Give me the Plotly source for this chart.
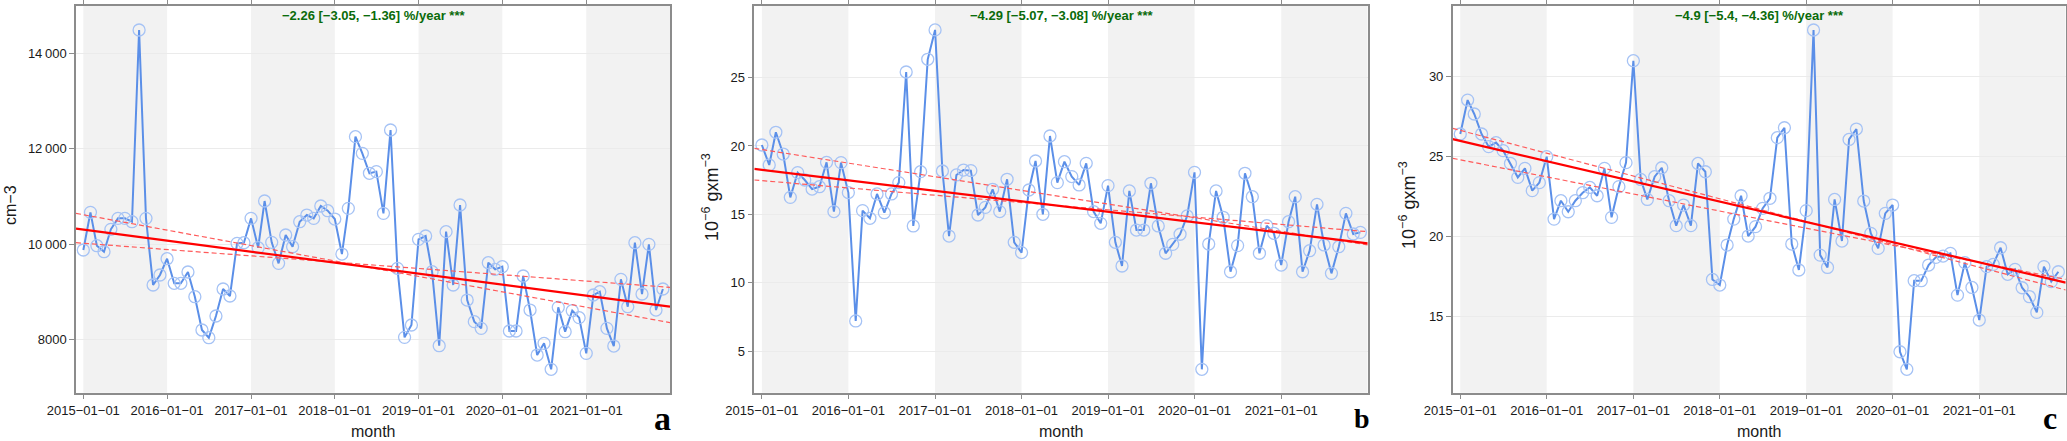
import pandas as pd
import plotly.graph_objects as go

# ---------------- data ----------------
months = pd.date_range("2015-01-01", "2021-12-01", freq="MS").strftime("%Y-%m-%d").tolist()

a_vals = [9874, 10664, 9965, 9839, 10308, 10538, 10538, 10468, 14490, 10538, 9140, 9350,
          9692, 9175, 9175, 9413, 8895, 8196, 8035, 8490, 9056, 8909, 10014, 10028,
          10538, 9923, 10902, 10035, 9594, 10189, 9944, 10468, 10608, 10538, 10797, 10699,
          10524, 9790, 10748, 12252, 11902, 11483, 11518, 10643, 12392, 9490, 8042, 8301,
          10098, 10168, 9420, 7867, 10259, 9140, 10818, 8825, 8371, 8231, 9608, 9469,
          9524, 8175, 8175, 9329, 8615, 7671, 7916, 7371, 8671, 8161, 8601, 8455,
          7706, 8930, 9000, 8231, 7860, 9259, 8685, 10028, 8951, 9993, 8615, 9056]

b_vals = [20.07, 18.61, 21.00, 19.41, 16.24, 18.05, 17.51, 16.85, 17.02, 18.80, 15.20, 18.78,
          16.59, 7.20, 15.27, 14.71, 16.49, 15.12, 16.49, 17.32, 25.41, 14.15, 18.12, 26.34,
          28.49, 18.17, 13.41, 17.88, 18.24, 18.20, 14.95, 15.51, 16.83, 15.20, 17.56, 12.95,
          12.20, 16.78, 18.90, 15.00, 20.73, 17.32, 18.85, 17.76, 17.15, 18.73, 15.20, 14.34,
          17.10, 12.95, 11.22, 16.71, 13.85, 13.85, 17.27, 14.15, 12.15, 12.80, 13.54, 14.88,
          18.07, 3.66, 12.83, 16.71, 14.78, 10.80, 12.71, 18.00, 16.29, 12.15, 14.17, 13.61,
          11.29, 14.46, 16.29, 10.80, 12.34, 15.73, 12.76, 10.68, 12.63, 15.07, 13.56, 13.68]

c_vals = [26.42, 28.54, 27.67, 26.42, 25.63, 25.88, 25.38, 24.58, 23.71, 24.27, 22.88, 23.38,
          25.00, 21.10, 22.25, 21.56, 22.25, 22.75, 23.08, 22.56, 24.27, 21.21, 23.13, 24.63,
          31.00, 23.58, 22.33, 23.75, 24.31, 22.25, 20.69, 21.98, 20.69, 24.58, 24.06, 17.33,
          16.98, 19.48, 21.10, 22.56, 20.04, 20.63, 21.77, 22.40, 26.19, 26.81, 19.54, 17.92,
          21.63, 32.92, 18.85, 18.08, 22.33, 19.73, 26.08, 26.73, 22.23, 20.21, 19.27, 21.46,
          21.98, 12.81, 11.71, 17.25, 17.25, 18.23, 18.71, 18.79, 18.96, 16.35, 18.38, 16.83,
          14.79, 18.13, 18.27, 19.31, 17.65, 17.96, 16.81, 16.25, 15.27, 18.13, 17.19, 17.81]

# Theil-Sen trend (solid) and slope-CI lines (dashed), values at the two x-range ends
trend_x = ["2014-11-30", "2022-01-01"]
a_trend, a_ci1, a_ci2 = [10322, 8685], [10643, 8350], [10028, 9091]
b_trend, b_ci1, b_ci2 = [18.32, 12.88], [19.83, 12.76], [17.51, 13.73]
c_trend, c_ci1, c_ci2 = [26.10, 17.13], [26.77, 16.67], [24.90, 17.33]

trend_text = ["−2.26 [−3.05, −1.36] %/year ***",
              "−4.29 [−5.07, −3.08] %/year ***",
              "−4.9 [−5.4, −4.36] %/year ***"]
y_titles = ["cm−3", "10<sup>−6</sup> gxm<sup>−3</sup>", "10<sup>−6</sup> gxm<sup>−3</sup>"]
panel_labels = ["a", "b", "c"]

year_ticks = ["2015-01-01", "2016-01-01", "2017-01-01", "2018-01-01",
              "2019-01-01", "2020-01-01", "2021-01-01"]
year_ticktext = [t.replace("-", "−") for t in year_ticks]
grey_bands = [("2015-01-01", "2016-01-01"), ("2017-01-01", "2018-01-01"),
              ("2019-01-01", "2020-01-01"), ("2021-01-01", "2022-01-01")]

a_yticks, a_yticktext = [8000, 10000, 12000, 14000], ["8000", "10\u2009000", "12\u2009000", "14\u2009000"]
b_yticks = [5, 10, 15, 20, 25]
c_yticks = [15, 20, 25, 30]

y_ranges = [[6881, 14993], [1.95, 30.24], [10.25, 34.42]]
x_range = ["2014-11-30", "2022-01-01"]

# ---------------- layout geometry ----------------
W, H = 2067, 441
px_domains = [(76, 670), (754.3, 1367.7), (1452.7, 2065.7)]
x_domains = [[l / W, r / W] for l, r in px_domains]
y_domain = [(H - 392.7) / H, (H - 6) / H]

FONT = "Liberation Sans, Arial, sans-serif"
LINE_BLUE = "#5b8fe8"
MARKER_BLUE = "#a6c3f5"
AX_GREY = "#8c8c8c"

fig = go.Figure()

series = [
    (a_vals, a_trend, a_ci1, a_ci2),
    (b_vals, b_trend, b_ci1, b_ci2),
    (c_vals, c_trend, c_ci1, c_ci2),
]

shapes = []
annotations = []
for i, (vals, tr, ci1, ci2) in enumerate(series):
    xa = "x" if i == 0 else f"x{i+1}"
    ya = "y" if i == 0 else f"y{i+1}"
    fig.add_trace(go.Scatter(x=months, y=vals, xaxis=xa, yaxis=ya, mode="lines+markers",
                             line=dict(color=LINE_BLUE, width=2),
                             marker=dict(symbol="circle-open", size=12, color=MARKER_BLUE,
                                         line=dict(width=1.3, color=MARKER_BLUE)),
                             showlegend=False, hoverinfo="skip"))
    for ci in (ci1, ci2):
        fig.add_trace(go.Scatter(x=trend_x, y=ci, xaxis=xa, yaxis=ya, mode="lines",
                                 line=dict(color="#ff5a5a", width=1.2, dash="5px,3px"),
                                 showlegend=False, hoverinfo="skip"))
    fig.add_trace(go.Scatter(x=trend_x, y=tr, xaxis=xa, yaxis=ya, mode="lines",
                             line=dict(color="#ff0000", width=2.2),
                             showlegend=False, hoverinfo="skip"))
    for x0, x1 in grey_bands:
        shapes.append(dict(type="rect", xref=xa, yref=f"{ya} domain", x0=x0, x1=x1,
                           y0=0, y1=1, fillcolor="#f2f2f2", line=dict(width=0), layer="below"))

    xc = (x_domains[i][0] + x_domains[i][1]) / 2
    annotations.append(dict(text=f"<b>{trend_text[i]}</b>", xref="paper", yref="paper",
                            x=xc, y=(H - 15) / H, xanchor="center", yanchor="middle",
                            showarrow=False, font=dict(family=FONT, size=13, color="#0a6b0a")))
    annotations.append(dict(text="month", xref="paper", yref="paper", x=xc, y=(H - 431) / H,
                            xanchor="center", yanchor="middle", showarrow=False,
                            font=dict(family=FONT, size=16, color="#1a1a1a")))
    ytitle_x = [10, 710, 1407][i]
    ytitle_y = [205, 197, 205][i]
    ytitle_size = [16, 18, 18][i]
    annotations.append(dict(text=y_titles[i], xref="paper", yref="paper", x=ytitle_x / W,
                            y=(H - ytitle_y) / H, xanchor="center", yanchor="middle",
                            textangle=-90, showarrow=False,
                            font=dict(family=FONT, size=ytitle_size, color="#1a1a1a")))
    lab_x = [662, 1362, 2050][i]
    lab_size = [34, 28, 32][i]
    annotations.append(dict(text=f"<b>{panel_labels[i]}</b>", xref="paper", yref="paper",
                            x=lab_x / W, y=(H - 418) / H, xanchor="center", yanchor="middle",
                            showarrow=False,
                            font=dict(family="Liberation Serif, Times New Roman, serif",
                                      size=lab_size, color="#000000")))

xaxis_common = dict(type="date", range=x_range, tickvals=year_ticks, ticktext=year_ticktext,
                    showgrid=False, zeroline=False, showline=True, linecolor=AX_GREY,
                    linewidth=1.5, mirror="ticks", ticks="outside", ticklen=5,
                    tickcolor=AX_GREY, tickwidth=1,
                    tickfont=dict(family=FONT, size=13, color="#1a1a1a"), automargin=False)
yaxis_common = dict(showgrid=True, gridcolor="#ebebeb", gridwidth=1, zeroline=False,
                    showline=True, linecolor=AX_GREY, linewidth=1.5, mirror=True,
                    ticks="outside", ticklen=5, tickcolor=AX_GREY, tickwidth=1,
                    tickfont=dict(family=FONT, size=13, color="#1a1a1a"), automargin=False,
                    domain=y_domain)

layout = dict(width=W, height=H, margin=dict(l=0, r=0, t=0, b=0),
              paper_bgcolor="white", plot_bgcolor="white", template="none",
              shapes=shapes, annotations=annotations, showlegend=False)

for i in range(3):
    sfx = "" if i == 0 else str(i + 1)
    xa = dict(xaxis_common, domain=x_domains[i], anchor="y" + sfx)
    ya = dict(yaxis_common, range=y_ranges[i], anchor="x" + sfx)
    if i == 0:
        ya.update(tickvals=a_yticks, ticktext=a_yticktext)
    elif i == 1:
        ya.update(tickvals=b_yticks)
    else:
        ya.update(tickvals=c_yticks)
    layout["xaxis" + sfx] = xa
    layout["yaxis" + sfx] = ya

fig.update_layout(**layout)
fig.write_html("out.html", config={"displayModeBar": False},
               post_script="document.body.style.margin='0';document.body.style.padding='0';"
                           "document.body.style.overflow='hidden';")
